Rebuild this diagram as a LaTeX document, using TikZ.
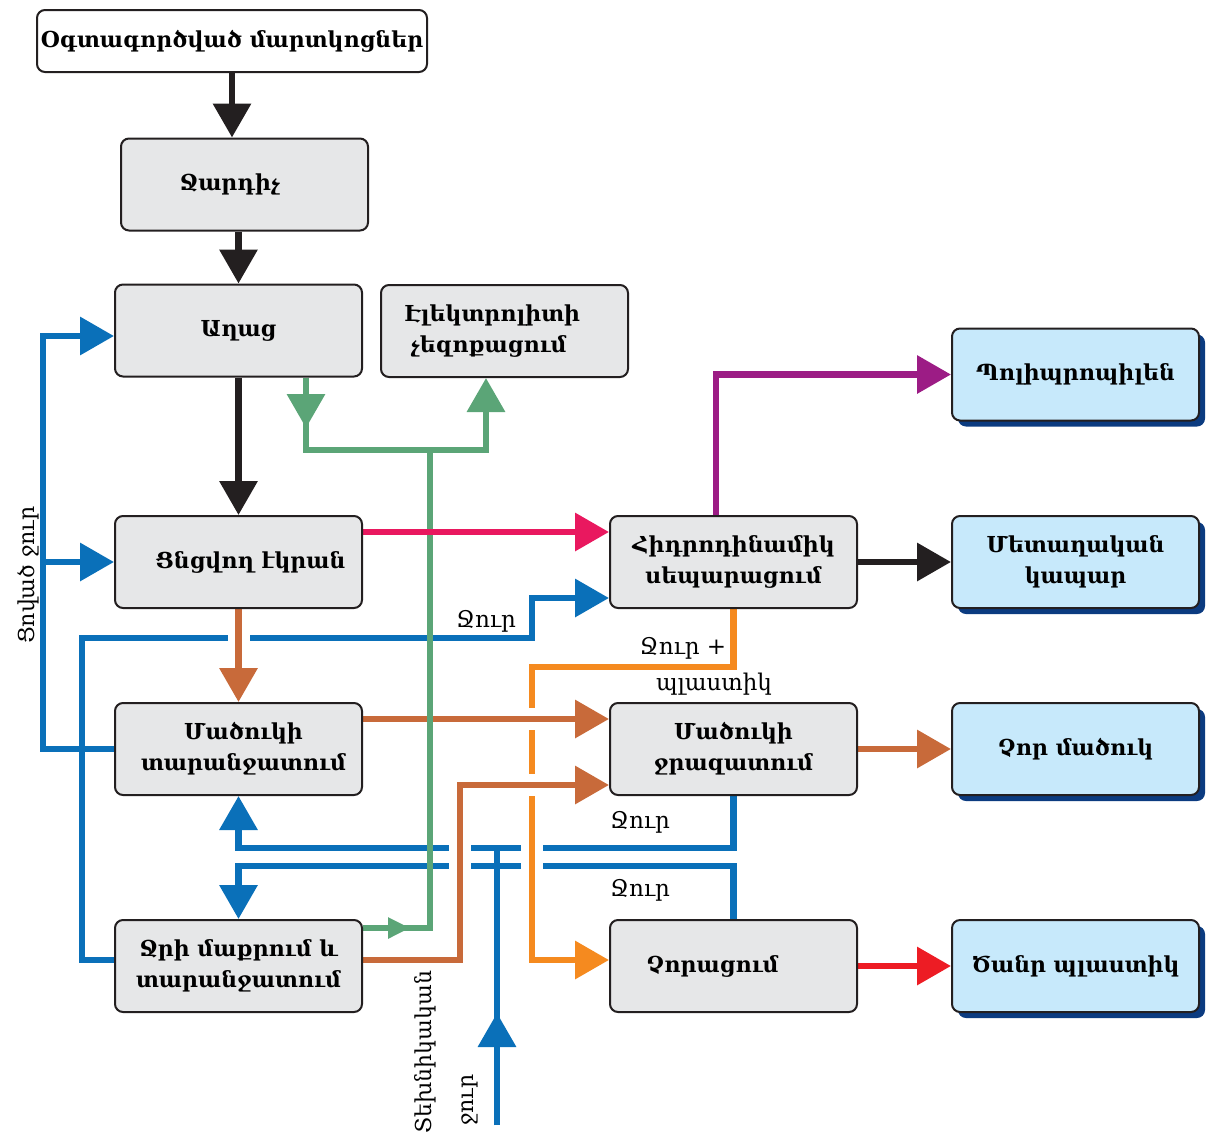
\documentclass[tikz,border=0pt]{standalone}
\usepackage{fontspec}
\setmainfont{DejaVu Serif}
\usetikzlibrary{arrows.meta,shadows}
\definecolor{boxgrey}{HTML}{E6E7E8}
\definecolor{boxline}{HTML}{231F20}
\definecolor{boxblue}{HTML}{C7E9FB}
\definecolor{shblue}{HTML}{0B3B80}
\definecolor{cblue}{HTML}{0A70B9}
\definecolor{cgreen}{HTML}{5BA577}
\definecolor{cpink}{HTML}{E9185F}
\definecolor{cpurple}{HTML}{9C1C85}
\definecolor{cbrown}{HTML}{C86A3A}
\definecolor{corange}{HTML}{F58A1F}
\definecolor{cred}{HTML}{ED1C24}
\definecolor{cblack}{HTML}{231F20}
\pgfdeclarelayer{lines}
\pgfsetlayers{lines,main}
\begin{document}
\begin{tikzpicture}[x=1pt,y=-1pt,
  box/.style={draw=boxline, line width=2pt, rounded corners=8pt, fill=boxgrey,
    minimum width=247pt, minimum height=92pt, inner sep=0pt, align=center,
    font=\bfseries\fontsize{22}{31}\selectfont},
  outbox/.style={box, fill=boxblue,
    general shadow={fill=shblue, shadow xshift=6pt, shadow yshift=-6pt}},
  conn/.style={line width=6.5pt, line join=miter},
  T/.style={-{Triangle[length=34pt,width=37pt]}},
  Ts/.style={-{Triangle[length=22pt,width=20pt]}},
  halo/.style={preaction={draw=white, line width=22pt, arrows=-}},
  lbl/.style={font=\fontsize{23}{27}\selectfont, inner sep=0pt},
  rlbl/.style={font=\fontsize{22}{26}\selectfont, inner sep=0pt, rotate=90},
  bline/.style={conn, draw=cblue},
  gline/.style={conn, draw=cgreen},
  oline/.style={conn, draw=corange},
  brline/.style={conn, draw=cbrown},
  kline/.style={conn, draw=cblack}]
\useasboundingbox (0,0) rectangle (1206,1135);

% boxes
\node[box, fill=white, minimum width=390pt, minimum height=62pt] (b1) at (232,41) {Օգտագործված մարտկոցներ};
\node[box] (b2) at (244.5,184.5) {Ջարդիչ\hspace*{29pt}};
\node[box] (b3) at (238.5,330.5) {\raisebox{-4pt}{Աղաց}};
\node[box, text width=200pt, align=left] (b4) at (504.5,331) {Էլեկտրոլիտի\\\hspace*{6pt}չեզոքացում};
\node[outbox] (b5) at (1075.5,374.5) {Պոլիպրոպիլեն};
\node[box] (b6) at (733.5,562) {Հիդրոդինամիկ\\սեպարացում};
\node[outbox] (b7) at (1075.5,562) {Մետաղական\\կապար};
\node[box] (b8) at (238.5,562) {\hspace*{24pt}\raisebox{-6pt}{Ցնցվող էկրան}};
\node[box] (b9) at (238.5,749) {\hspace*{10pt}Մածուկի\\\hspace*{10pt}տարանջատում};
\node[box] (b10) at (733.5,749) {Մածուկի\\ջրազատում};
\node[outbox] (b11) at (1075.5,749) {Չոր մածուկ};
\node[box] (b12) at (238.5,966) {Ջրի մաքրում և\\տարանջատում};
\node[box] (b13) at (733.5,966) {Չորացում\hspace*{42pt}};
\node[outbox] (b14) at (1075.5,966) {Ծանր պլաստիկ};

% bend coordinates
\coordinate (gA) at (306,450);
\coordinate (gB) at (486,450);
\coordinate (gC) at (430,450);
\coordinate (gD) at (430,928);
\coordinate (gM) at (306,428);
\coordinate (gE) at (410,928);
\coordinate (wL) at (43,336);
\coordinate (wa) at (82,638);
\coordinate (wd) at (532,598);
\coordinate (wu) at (0,848);
\coordinate (wv) at (0,866);
\coordinate (t0) at (497,1125);
\coordinate (t1) at (497,848);
\coordinate (tm) at (497,1013);
\coordinate (oa) at (532,667);
\coordinate (ra) at (460,785);
\coordinate (pa) at (716,376);

\begin{pgfonlayer}{lines}
% blue water lines
\draw[bline,T] (b9.west) -| (wL) -- (b3.west |- wL);
\draw[bline,T] (b8.west -| wL) -- (b8.west);
\draw[bline,T] ([yshift=6pt]b12.west) -| (wa) -| (wd) -- (b6.west |- wd);
\draw[bline,T] (b10.south) |- (b9.south |- wu) -- (b9.south);
\draw[bline,T] (b13.north) |- (b12.north |- wv) -- (b12.north);
\draw[bline] (t0) -- (t1);
\draw[bline,T] (t0) -- (tm);
% orange
\draw[oline,halo,T] (b6.south) |- (oa) |- ([yshift=6pt]b13.west);
% brown
\draw[brline,halo,T] (b8.south) -- (b9.north);
\draw[brline,halo,T] ([yshift=30pt]b9.east) -- ([yshift=30pt]b10.west);
\draw[brline,halo,T] ([yshift=6pt]b12.east) -| (ra) -- (b10.west |- ra);
\draw[brline,T] (b10.east) -- (b11.west);
% green
\draw[gline,T] (b3.south -| gA) -- (gA) -- (gB) -- (b4.south -| gB);
\draw[gline,T] (b3.south -| gA) -- (gM);
\draw[gline] (b12.east |- gD) -- (gD) -- (gC);
\draw[gline,Ts] (b12.east |- gD) -- (gE);
% others
\draw[conn, draw=cpink, T] ([yshift=30pt]b8.east) -- ([yshift=30pt]b6.west);
\draw[conn, draw=cpurple, T] (b6.north -| pa) |- (b5.west);
\draw[kline,T] (b1.south) -- (b1.south |- b2.north);
\draw[kline,T] (b3.north |- b2.south) -- (b3.north);
\draw[kline,T] (b3.south) -- (b8.north);
\draw[kline,T] (b6.east) -- (b7.west);
\draw[conn, draw=cred, T] (b13.east) -- (b14.west);
\end{pgfonlayer}

% labels
\node[lbl] (l1) at (486,621) {Ջուր};
\node[lbl] (l2) at (640,822) {Ջուր};
\node[lbl] (l3) at (640,890) {Ջուր};
\node[lbl] (l4) at (683,648) {Ջուր +};
\node[lbl] (l5) at (714,684) {պլաստիկ};
\node[rlbl] (l6) at (28,575) {Ցոված ջուր};
\node[rlbl] (l7) at (425,1052) {Տեխնիկական};
\node[rlbl, anchor=west] (l8) at (470,1126) {ջուր};
\end{tikzpicture}
\end{document}
